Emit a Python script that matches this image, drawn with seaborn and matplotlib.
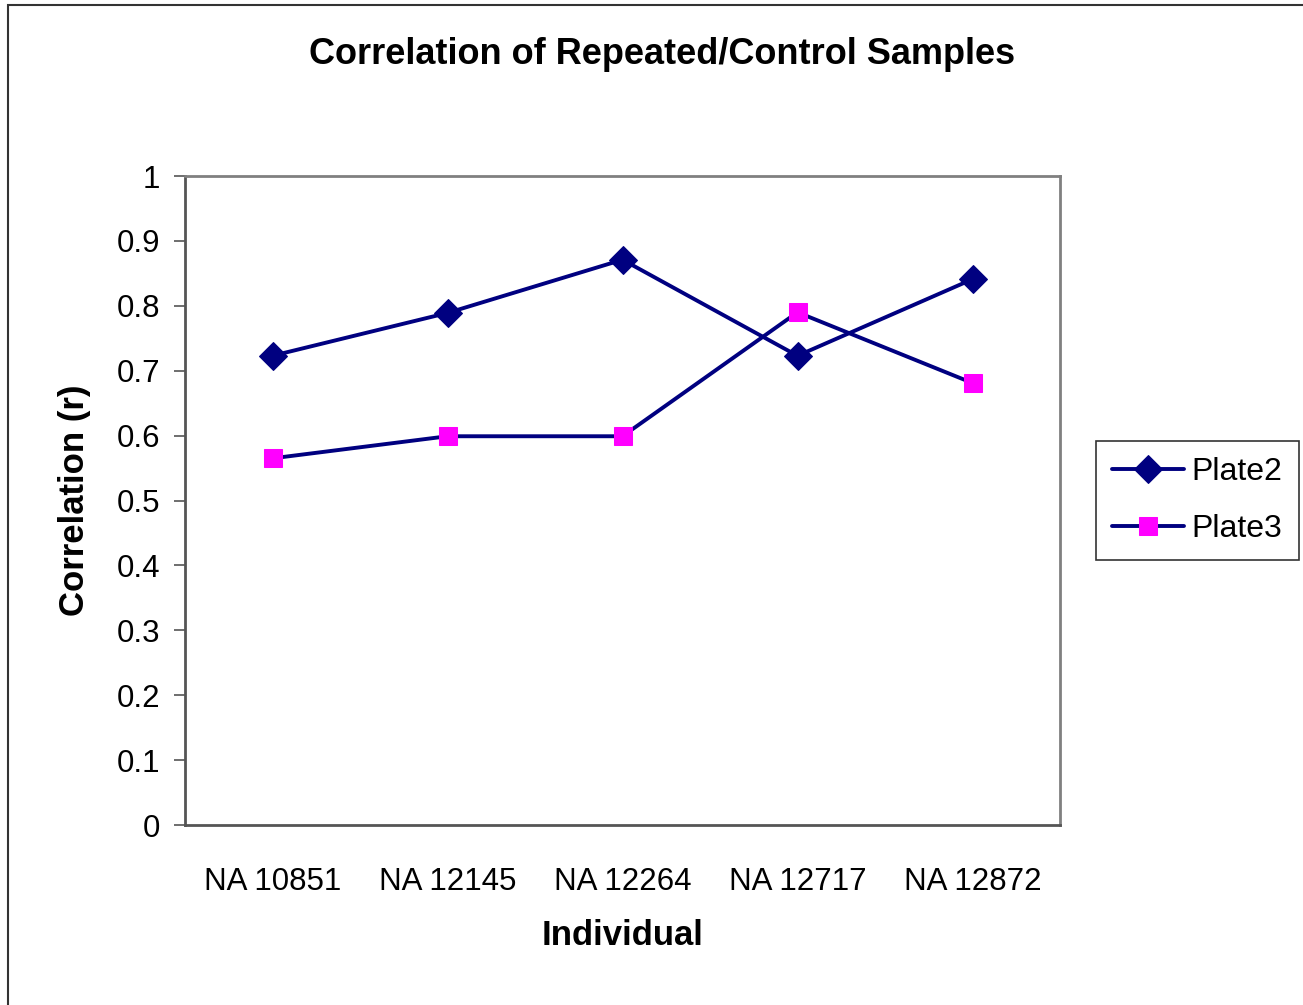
import matplotlib
matplotlib.use("Agg")
import matplotlib.pyplot as plt
import seaborn as sns
import pandas as pd
from matplotlib.patches import Rectangle

individuals = ["NA10851", "NA12145", "NA12264", "NA12717", "NA12872"]
tick_labels = ["NA 10851", "NA 12145", "NA 12264", "NA 12717", "NA 12872"]
plate2 = [0.723, 0.789, 0.871, 0.723, 0.841]
plate3 = [0.565, 0.599, 0.599, 0.790, 0.681]
yticks = [0, 0.1, 0.2, 0.3, 0.4, 0.5, 0.6, 0.7, 0.8, 0.9, 1]
ytick_labels = ["0", "0.1", "0.2", "0.3", "0.4", "0.5", "0.6", "0.7", "0.8", "0.9", "1"]

sns.set_style("white")
plt.rcParams['font.family'] = ['Liberation Sans', 'DejaVu Sans']
plt.rcParams['text.color'] = 'black'
plt.rcParams['axes.labelcolor'] = 'black'
plt.rcParams['xtick.color'] = 'black'
plt.rcParams['ytick.color'] = 'black'

fig = plt.figure(figsize=(13.03, 10.05), dpi=100)
ax = fig.add_axes([185/1303, 1-825/1005, 875/1303, 649/1005])

df = pd.DataFrame({"pos": list(range(len(individuals))), "Plate2": plate2, "Plate3": plate3})
navy = "#000080"
sns.lineplot(data=df, x="pos", y="Plate2", ax=ax, color=navy, lw=2.8, marker="D",
             markersize=14, markerfacecolor=navy, markeredgecolor=navy, label="Plate2")
sns.lineplot(data=df, x="pos", y="Plate3", ax=ax, color=navy, lw=2.8, marker="s",
             markersize=13.5, markerfacecolor="#FF00FF", markeredgecolor="#FF00FF", label="Plate3")

ax.set_xlim(-0.5, len(individuals) - 0.5)
ax.set_ylim(0, 1)
ax.set_yticks(yticks)
ax.set_yticklabels(ytick_labels, fontsize=22.5)
ax.set_xticks(range(len(individuals)))
ax.set_xticklabels(tick_labels, fontsize=22.5)
ax.set_xticks([i - 0.5 for i in range(len(individuals) + 1)], minor=True)
ax.tick_params(axis="x", which="major", length=0, pad=30, colors="black")
ax.tick_params(axis="x", which="minor", length=8, width=1.2, color="#555555", direction="out")
ax.tick_params(axis="y", which="major", length=8, width=1.2, color="#555555", direction="out", pad=10, left=True, labelcolor="black")
for s in ax.spines.values():
    s.set_visible(True)
    s.set_color("#808080")
    s.set_linewidth(2)
ax.spines["left"].set_color("#555555")
ax.spines["bottom"].set_color("#555555")

ax.set_xlabel("Individual", fontsize=25, fontweight="bold", labelpad=16)
ax.set_ylabel("Correlation (r)", fontsize=25, fontweight="bold", labelpad=18)
fig.text(662/1303, 1-55/1005, "Correlation of Repeated/Control Samples", fontsize=26,
         fontweight="bold", ha="center", va="center")

leg = ax.legend(loc="upper left", bbox_to_anchor=(1096/1303, 1-441/1005), bbox_transform=fig.transFigure,
                fontsize=23, frameon=True, fancybox=False, edgecolor="black", handlelength=2.25,
                borderpad=0.5, labelspacing=0.85, handletextpad=0.25, borderaxespad=0)
leg.get_frame().set_linewidth(1.2)

fig.patches.append(Rectangle((8/1303, -0.01), 1.02, 1-5/1005 + 0.01, transform=fig.transFigure,
                             fill=False, edgecolor="#333333", lw=1.5))

fig.savefig("out.png", dpi=100, facecolor="white")
